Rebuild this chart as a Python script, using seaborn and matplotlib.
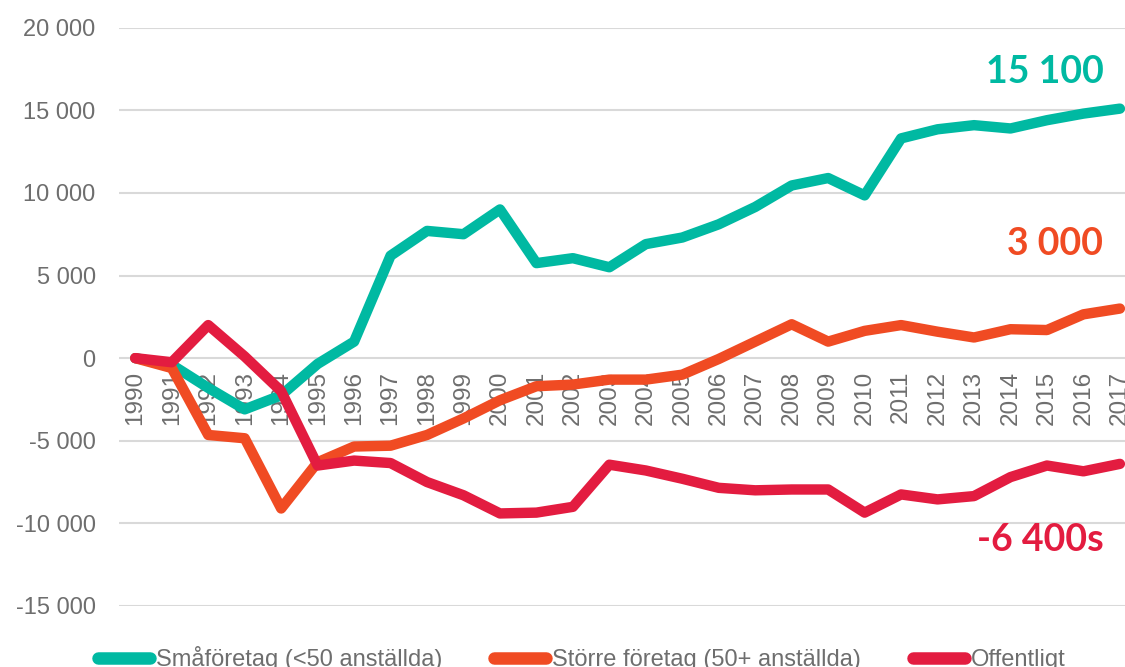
import matplotlib
matplotlib.use("Agg")
import matplotlib.pyplot as plt
import seaborn as sns
import pandas as pd
from matplotlib.ticker import FuncFormatter

sns.set_theme(style="white")
plt.rcParams['font.family'] = ['Liberation Sans', 'DejaVu Sans']

years = list(range(1990, 2018))

small = [0, -400, -1800, -3100, -2250, -350, 1000, 6200, 7700, 7500,
         9000, 5750, 6050, 5500, 6900, 7300, 8100, 9150, 10450, 10900,
         9850, 13300, 13850, 14100, 13900, 14400, 14800, 15100]
large = [0, -600, -4650, -4850, -9100, -6300, -5350, -5300, -4650, -3650,
         -2550, -1700, -1600, -1300, -1300, -1000, -50, 1000, 2050, 1000,
         1650, 2000, 1600, 1250, 1750, 1700, 2650, 3000]
public = [0, -250, 2000, 100, -2000, -6500, -6200, -6350, -7500, -8300,
          -9400, -9350, -9000, -6450, -6800, -7300, -7850, -8000, -7950, -7950,
          -9350, -8250, -8550, -8350, -7200, -6500, -6850, -6400]

series_names = ["Småföretag (<50 anställda)", "Större företag (50+ anställda)", "Offentligt"]
end_labels = ["15 100", "3 000", "-6 400s"]
colors = ["#00B9A2", "#F04B23", "#E31C40"]

df = pd.concat([
    pd.DataFrame({"year": years, "value": vals, "series": name})
    for vals, name in zip([small, large, public], series_names)
])

fig = plt.figure(figsize=(11.25, 6.67), dpi=100)
ax = fig.add_axes([0.106, 0.0915, 0.894, 0.867])

sns.lineplot(data=df, x="year", y="value", hue="series", palette=colors,
             linewidth=7.5, ax=ax, legend=True)
for line in ax.get_lines():
    line.set_solid_capstyle("round")
    line.set_solid_joinstyle("round")
    line.set_clip_on(False)

# x axis sits on the zero line
ax.spines["bottom"].set_position(("data", 0))
for s in ["top", "right", "left", "bottom"]:
    ax.spines[s].set_visible(False)

ax.set_xlim(1989.56, 2017.14)
ax.set_ylim(-15000, 20000)
ax.set_yticks(range(-15000, 20001, 5000))
ax.yaxis.set_major_formatter(FuncFormatter(lambda v, p: f"{int(v):,}".replace(",", " ")))
ax.set_xticks(years)
ax.set_xticklabels([str(y) for y in years])
ax.grid(axis="y", color="#D9D9D9", linewidth=1.5)
ax.set_axisbelow(True)
ax.tick_params(axis="y", length=0, pad=17, labelsize=17, labelcolor="#6E6E6E")
ax.tick_params(axis="x", length=0, pad=9, labelsize=17.5, labelcolor="#6E6E6E",
               labelrotation=90)
ax.set_xlabel("")
ax.set_ylabel("")

# end-of-line value labels
label_y = [17300, 6900, -11000]
for txt, yv, c in zip(end_labels, label_y, colors):
    ax.text(2016.55, yv, txt, color=c, fontsize=27, fontweight="bold",
            ha="right", va="center", family=["Lato", "DejaVu Sans"])

handles, labels = ax.get_legend_handles_labels()
ax.get_legend().remove()
for h in handles:
    h.set_solid_capstyle("round")
    h.set_linewidth(9)
fig.legend(handles, labels, loc="center", bbox_to_anchor=(0.517, 0.012), ncol=3,
           frameon=False, handlelength=2.2, handletextpad=0.25,
           columnspacing=2.2, labelcolor="#6E6E6E",
           prop={"family": ["Liberation Sans Narrow", "Liberation Sans", "DejaVu Sans"], "size": 17})

fig.savefig("out.png", dpi=100)
